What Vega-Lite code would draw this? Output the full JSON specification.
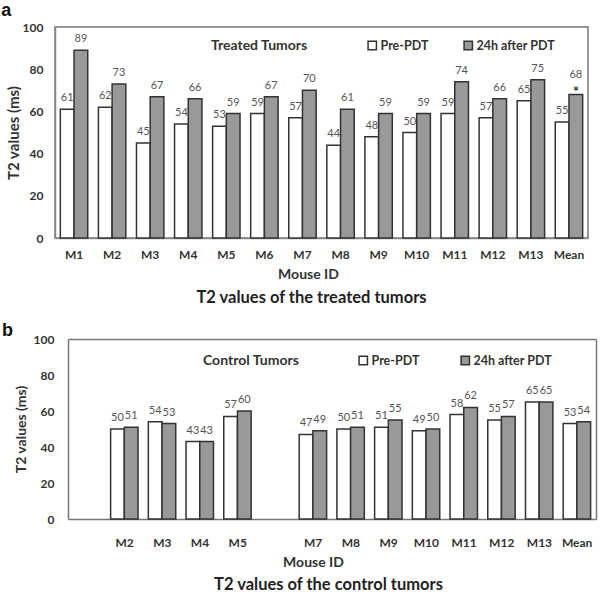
{
  "$schema": "https://vega.github.io/schema/vega-lite/v6.json",
  "padding": {"left": 1, "top": 2, "right": 2, "bottom": 0},
  "background": "white",
  "spacing": 14,
  "config": {
    "font": "Lato",
    "view": {"stroke": "#777777", "strokeWidth": 1.5},
    "axis": {"labelFont": "Lato", "labelFontWeight": "bold", "labelColor": "#333333", "labelFontSize": 12, "titleFont": "Lato", "titleFontWeight": "bold", "titleColor": "#333333", "ticks": false, "grid": false, "domainColor": "#888888", "domainWidth": 1.5},
    "legend": {"labelFont": "Lato", "labelFontWeight": "bold", "labelFontSize": 12.5, "labelColor": "#333333", "titleFont": "Lato", "titleFontWeight": "bold", "titleFontSize": 14, "titleColor": "#333333", "symbolType": "square", "symbolStrokeColor": "#333333", "symbolStrokeWidth": 1.5, "symbolSize": 70}
  },
  "datasets": {
    "treated": [
      {"mouse": "M1", "phase": "Pre-PDT", "t2": 61}, {"mouse": "M1", "phase": "24h after PDT", "t2": 89},
      {"mouse": "M2", "phase": "Pre-PDT", "t2": 62}, {"mouse": "M2", "phase": "24h after PDT", "t2": 73},
      {"mouse": "M3", "phase": "Pre-PDT", "t2": 45}, {"mouse": "M3", "phase": "24h after PDT", "t2": 67},
      {"mouse": "M4", "phase": "Pre-PDT", "t2": 54}, {"mouse": "M4", "phase": "24h after PDT", "t2": 66},
      {"mouse": "M5", "phase": "Pre-PDT", "t2": 53}, {"mouse": "M5", "phase": "24h after PDT", "t2": 59},
      {"mouse": "M6", "phase": "Pre-PDT", "t2": 59}, {"mouse": "M6", "phase": "24h after PDT", "t2": 67},
      {"mouse": "M7", "phase": "Pre-PDT", "t2": 57}, {"mouse": "M7", "phase": "24h after PDT", "t2": 70},
      {"mouse": "M8", "phase": "Pre-PDT", "t2": 44}, {"mouse": "M8", "phase": "24h after PDT", "t2": 61},
      {"mouse": "M9", "phase": "Pre-PDT", "t2": 48}, {"mouse": "M9", "phase": "24h after PDT", "t2": 59},
      {"mouse": "M10", "phase": "Pre-PDT", "t2": 50}, {"mouse": "M10", "phase": "24h after PDT", "t2": 59},
      {"mouse": "M11", "phase": "Pre-PDT", "t2": 59}, {"mouse": "M11", "phase": "24h after PDT", "t2": 74},
      {"mouse": "M12", "phase": "Pre-PDT", "t2": 57}, {"mouse": "M12", "phase": "24h after PDT", "t2": 66},
      {"mouse": "M13", "phase": "Pre-PDT", "t2": 65}, {"mouse": "M13", "phase": "24h after PDT", "t2": 75},
      {"mouse": "Mean", "phase": "Pre-PDT", "t2": 55}, {"mouse": "Mean", "phase": "24h after PDT", "t2": 68, "star": "*"}
    ],
    "control": [
      {"mouse": "M2", "phase": "Pre-PDT", "t2": 50}, {"mouse": "M2", "phase": "24h after PDT", "t2": 51},
      {"mouse": "M3", "phase": "Pre-PDT", "t2": 54}, {"mouse": "M3", "phase": "24h after PDT", "t2": 53},
      {"mouse": "M4", "phase": "Pre-PDT", "t2": 43}, {"mouse": "M4", "phase": "24h after PDT", "t2": 43},
      {"mouse": "M5", "phase": "Pre-PDT", "t2": 57}, {"mouse": "M5", "phase": "24h after PDT", "t2": 60},
      {"mouse": "M7", "phase": "Pre-PDT", "t2": 47}, {"mouse": "M7", "phase": "24h after PDT", "t2": 49},
      {"mouse": "M8", "phase": "Pre-PDT", "t2": 50}, {"mouse": "M8", "phase": "24h after PDT", "t2": 51},
      {"mouse": "M9", "phase": "Pre-PDT", "t2": 51}, {"mouse": "M9", "phase": "24h after PDT", "t2": 55},
      {"mouse": "M10", "phase": "Pre-PDT", "t2": 49}, {"mouse": "M10", "phase": "24h after PDT", "t2": 50},
      {"mouse": "M11", "phase": "Pre-PDT", "t2": 58}, {"mouse": "M11", "phase": "24h after PDT", "t2": 62},
      {"mouse": "M12", "phase": "Pre-PDT", "t2": 55}, {"mouse": "M12", "phase": "24h after PDT", "t2": 57},
      {"mouse": "M13", "phase": "Pre-PDT", "t2": 65}, {"mouse": "M13", "phase": "24h after PDT", "t2": 65},
      {"mouse": "Mean", "phase": "Pre-PDT", "t2": 53}, {"mouse": "Mean", "phase": "24h after PDT", "t2": 54}
    ]
  },
  "resolve": {"scale": {"fill": "independent"}, "legend": {"fill": "independent"}},
  "vconcat": [
    {
      "title": {"text": "a", "anchor": "start", "frame": "bounds", "fontSize": 18, "fontWeight": "bold", "font": "Liberation Sans", "color": "#111111", "offset": 0, "dx": -4},
      "resolve": {"scale": {"fill": "independent"}, "legend": {"fill": "independent"}},
      "vconcat": [
        {
          "title": {"text": "T2 values of the treated tumors", "orient": "bottom", "anchor": "middle", "frame": "group", "dx": -10, "fontSize": 16.5, "fontWeight": "bold", "font": "Lato", "color": "#222222", "offset": 9},
          "width": 533, "height": 211,
          "data": {"name": "treated"},
          "encoding": {
            "x": {"field": "mouse", "type": "nominal", "sort": ["M1","M2","M3","M4","M5","M6","M7","M8","M9","M10","M11","M12","M13","Mean"], "scale": {"paddingInner": 0.28, "paddingOuter": 0.14}, "axis": {"title": "Mouse ID", "labelAngle": 0, "labelPadding": 11, "titleFontSize": 14, "titlePadding": 7, "titleX": 253}},
            "xOffset": {"field": "phase", "type": "nominal", "sort": ["Pre-PDT", "24h after PDT"]},
            "y": {"field": "t2", "type": "quantitative", "scale": {"domain": [0, 100]}, "axis": {"values": [0, 20, 40, 60, 80, 100], "title": "T2 values (ms)", "titleFontSize": 15, "labelPadding": 12, "titlePadding": 1}}
          },
          "layer": [
            {
              "mark": {"type": "bar", "stroke": "#333333", "strokeWidth": 1.5},
              "encoding": {
                "fill": {"field": "phase", "type": "nominal", "sort": ["Pre-PDT", "24h after PDT"], "scale": {"domain": ["Pre-PDT", "24h after PDT"], "range": ["#ffffff", "#999999"]},
                  "legend": {"title": "Treated Tumors", "orient": "none", "legendX": 156, "legendY": 12, "direction": "horizontal", "titleOrient": "left", "titlePadding": 58, "columnPadding": 32, "labelOffset": 2}}
              }
            },
            {
              "transform": [{"filter": "!datum.star"}],
              "mark": {"type": "text", "dy": -11, "fontSize": 11, "color": "#555555", "font": "Lato"},
              "encoding": {"text": {"field": "t2", "type": "quantitative"}}
            },
            {
              "transform": [{"filter": "datum.star"}],
              "mark": {"type": "text", "dy": -20, "fontSize": 11, "color": "#555555", "font": "Lato"},
              "encoding": {"text": {"field": "t2", "type": "quantitative"}}
            },
            {
              "transform": [{"filter": "datum.star"}],
              "mark": {"type": "text", "dy": -3, "baseline": "middle", "fontSize": 15, "fontWeight": "bold", "color": "#333333", "font": "Lato"},
              "encoding": {"text": {"field": "star", "type": "nominal"}}
            }
          ]
        }
      ]
    },
    {
      "title": {"text": "b", "anchor": "start", "frame": "bounds", "fontSize": 18, "fontWeight": "bold", "font": "Liberation Sans", "color": "#111111", "offset": -7, "dx": -12},
      "resolve": {"scale": {"fill": "independent"}, "legend": {"fill": "independent"}},
      "vconcat": [
        {
          "title": {"text": "T2 values of the control tumors", "orient": "bottom", "anchor": "middle", "frame": "group", "dx": 3, "fontSize": 16.5, "fontWeight": "bold", "font": "Lato", "color": "#222222", "offset": 8},
          "width": 541, "height": 180,
          "view": {"stroke": null},
          "data": {"name": "control"},
          "resolve": {"axis": {"x": "independent", "y": "independent"}},
          "layer": [
            {
              "mark": {"type": "bar", "stroke": "#333333", "strokeWidth": 1.5},
              "encoding": {
                "x": {"field": "mouse", "type": "nominal", "sort": ["M1","M2","M3","M4","M5","M6","M7","M8","M9","M10","M11","M12","M13","Mean"], "scale": {"domain": ["M1","M2","M3","M4","M5","M6","M7","M8","M9","M10","M11","M12","M13","Mean"], "range": [13, 541], "paddingInner": 0.26, "paddingOuter": 0.13}, "axis": {"title": "Mouse ID", "labelAngle": 0, "labelPadding": 18, "titleFontSize": 14, "titlePadding": 7, "titleX": 258, "domainColor": "#777777", "labelExpr": "datum.value == 'M1' || datum.value == 'M6' ? '' : datum.value"}},
                "xOffset": {"field": "phase", "type": "nominal", "sort": ["Pre-PDT", "24h after PDT"]},
                "y": {"field": "t2", "type": "quantitative", "scale": {"domain": [0, 100]}, "axis": {"values": [0, 20, 40, 60, 80, 100], "title": "T2 values (ms)", "titleFontSize": 14, "labelPadding": 14, "titlePadding": 5, "offset": -13, "domainColor": "#777777"}},
                "fill": {"field": "phase", "type": "nominal", "sort": ["Pre-PDT", "24h after PDT"], "scale": {"domain": ["Pre-PDT", "24h after PDT"], "range": ["#ffffff", "#999999"]},
                  "legend": {"title": "Control Tumors", "orient": "none", "legendX": 148, "legendY": 15, "direction": "horizontal", "titleOrient": "left", "titlePadding": 57, "columnPadding": 38, "labelOffset": 2}}
              }
            },
            {
              "mark": {"type": "text", "dy": -11, "fontSize": 11, "color": "#555555", "font": "Lato"},
              "encoding": {
                "x": {"field": "mouse", "type": "nominal", "sort": ["M1","M2","M3","M4","M5","M6","M7","M8","M9","M10","M11","M12","M13","Mean"], "scale": {"domain": ["M1","M2","M3","M4","M5","M6","M7","M8","M9","M10","M11","M12","M13","Mean"], "range": [13, 541], "paddingInner": 0.26, "paddingOuter": 0.13}, "axis": {"orient": "top", "labels": false, "ticks": false, "title": null, "domain": true, "domainColor": "#777777"}},
                "xOffset": {"field": "phase", "type": "nominal", "sort": ["Pre-PDT", "24h after PDT"]},
                "y": {"field": "t2", "type": "quantitative", "scale": {"domain": [0, 100]}, "axis": {"orient": "right", "labels": false, "ticks": false, "title": null, "domain": true, "domainColor": "#777777"}},
                "text": {"field": "t2", "type": "quantitative"}
              }
            }
          ]
        }
      ]
    }
  ]
}
